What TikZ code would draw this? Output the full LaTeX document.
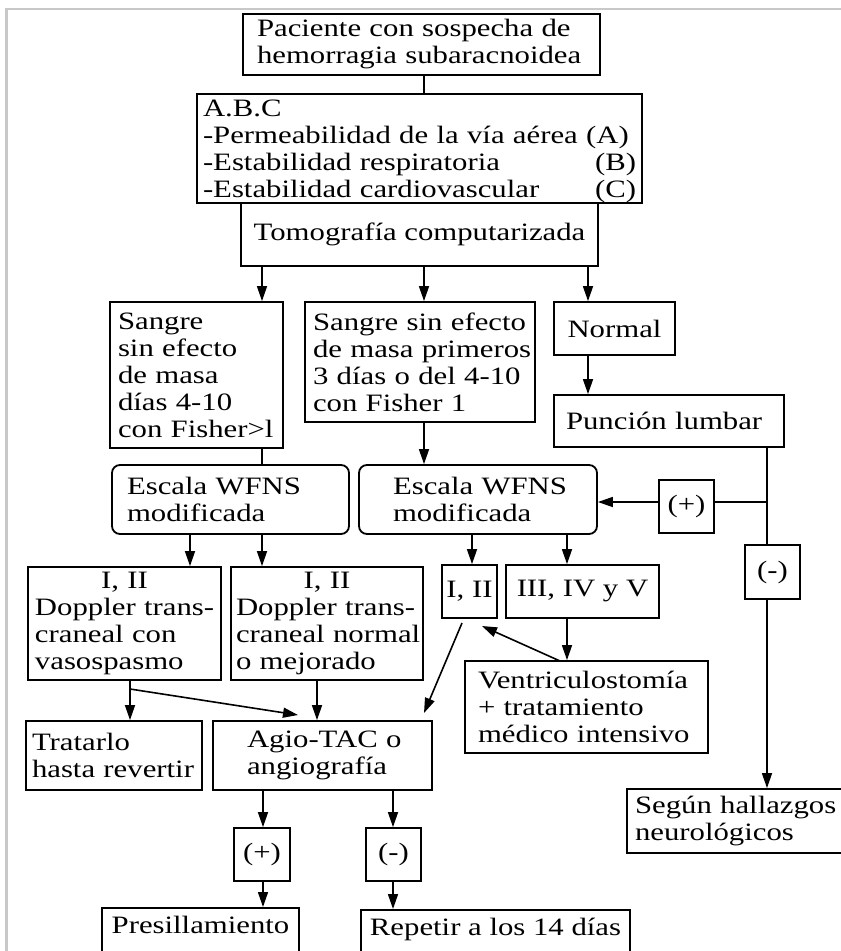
\documentclass[tikz,border=0pt]{standalone}
\usepackage{fontspec}
\setmainfont{Liberation Serif}[FakeStretch=1.23]
\usetikzlibrary{arrows.meta}
\definecolor{framegray}{RGB}{200,200,200}
\tikzset{
  box/.style={draw, line width=1.8pt, inner ysep=0pt, align=left, font=\fontsize{25}{27}\selectfont},
  rbox/.style={box, rounded corners=8pt},
  sbox/.style={box, align=center, inner xsep=0pt},
  link/.style={line width=1.6pt},
  arr/.style={link, -{Triangle[length=15pt,width=10pt]}},
}
\begin{document}
\begin{tikzpicture}[x=1pt,y=-1pt]
\useasboundingbox (0,0) rectangle (841,951);
\clip (0,0) rectangle (841,951);
\fill[white] (0,0) rectangle (841,951);
\draw[framegray, line width=2.5pt] (6.3,960) -- (6.3,9) -- (850,9);

% column coordinates
\coordinate (xa) at (262,0);
\coordinate (xb) at (424,0);
\coordinate (xc) at (588,0);
\coordinate (xd) at (190,0);
\coordinate (xe) at (472,0);
\coordinate (xf) at (567,0);
\coordinate (xg) at (767,0);
\coordinate (xh) at (130,0);
\coordinate (xi) at (317,0);
\coordinate (xj) at (263,0);
\coordinate (xk) at (393,0);

% nodes
\node[box, minimum width=357pt, minimum height=61pt, text width=329pt, inner xsep=14pt] (pac) at (421.5,44.5)
  {Paciente con sospecha de\\hemorragia subaracnoidea};
\node[box, minimum width=445pt, minimum height=109pt, text width=433pt, inner xsep=6pt, text height=22pt, text depth=87pt] (abc) at (419.5,148.5)
  {A.B.C\\\mbox{-Permeabilidad de la vía aérea (A)}\\\mbox{-Estabilidad respiratoria}\hfill(B)\\\mbox{-Estabilidad cardiovascular}\hfill(C)};
\node[sbox, minimum width=357pt, minimum height=63pt] (tomo) at (419.5,234.5) {Tomografía computarizada};

\node[box, minimum width=173pt, minimum height=146pt, text width=157pt, inner xsep=8pt] (s1) at (196.5,375)
  {Sangre\\\mbox{sin efecto}\\\mbox{de masa}\\\mbox{días 4-10}\\\mbox{con Fisher>l}};
\node[box, minimum width=230pt, minimum height=120pt, text width=214pt, inner xsep=8pt] (s2) at (420,362)
  {\mbox{Sangre sin efecto}\\\mbox{de masa primeros}\\\mbox{3 días o del 4-10}\\\mbox{con Fisher 1}};
\node[sbox, minimum width=121pt, minimum height=53pt] (normal) at (614.5,328.5) {Normal};
\node[box, minimum width=230pt, minimum height=52pt, text width=206pt, inner xsep=12pt] (punc) at (669,421) {\mbox{Punción lumbar}};

\node[rbox, minimum width=237pt, minimum height=69pt, text width=207pt, inner xsep=15pt] (esc1) at (230.5,499.5)
  {\mbox{Escala WFNS}\\modificada};
\node[rbox, minimum width=238pt, minimum height=69pt, text width=170pt, inner xsep=34pt] (esc2) at (478,499.5)
  {\mbox{Escala WFNS}\\modificada};
\node[sbox, minimum width=55pt, minimum height=53pt] (plusR) at (686.5,506.5) {(+)};
\node[sbox, minimum width=55pt, minimum height=54pt] (minusR) at (772.5,572) {(-)};

\node[box, minimum width=193pt, minimum height=113pt, text width=179pt, inner xsep=7pt] (d1) at (124.5,623.5)
  {\makebox[179pt]{I, II}\\\mbox{Doppler trans-}\\\mbox{craneal con}\\vasospasmo};
\node[box, minimum width=192pt, minimum height=113pt, text width=182pt, inner xsep=5pt] (d2) at (327,623.5)
  {\makebox[182pt]{I, II}\\\mbox{Doppler trans-}\\\mbox{craneal normal}\\\mbox{o mejorado}};
\node[sbox, minimum width=55pt, minimum height=53pt] (i2) at (469.5,591.5) {I, II};
\node[sbox, minimum width=153pt, minimum height=53pt] (iii) at (582.5,591.5) {III, IV y V};
\node[box, minimum width=243pt, minimum height=92pt, text width=217pt, inner xsep=13pt] (vent) at (586.5,707)
  {\mbox{Ventriculostomía}\\\mbox{+ tratamiento}\\\mbox{médico intensivo}};

\node[box, minimum width=176pt, minimum height=69pt, text width=164pt, inner xsep=6pt] (trat) at (114,755.5)
  {Tratarlo\\\mbox{hasta revertir}};
\node[box, minimum width=219pt, minimum height=69pt, text width=151pt, inner xsep=34pt] (agio) at (322.5,755.5)
  {\mbox{Agio-TAC o}\\angiografía};
\node[box, minimum width=218pt, minimum height=64pt, text width=202pt, inner xsep=8pt] (segun) at (736,821)
  {\mbox{Según hallazgos}\\neurológicos};

\node[sbox, minimum width=56pt, minimum height=53pt] (plusB) at (262,854.5) {(+)};
\node[sbox, minimum width=55pt, minimum height=53pt] (minusB) at (393.5,854.5) {(-)};
\node[sbox, anchor=north, minimum width=197pt, text height=26pt, text depth=40pt] (pres) at (200.5,907) {Presillamiento};
\node[sbox, anchor=north, minimum width=269pt, text height=26pt, text depth=40pt] (rep) at (495.5,909) {Repetir a los 14 días};

% connectors
\draw[link] (pac.south -| xb) -- (abc.north -| xb);
\draw[arr] (tomo.south -| xa) -- (s1.north -| xa);
\draw[arr] (tomo.south -| xb) -- (s2.north -| xb);
\draw[arr] (tomo.south -| xc) -- (normal.north -| xc);
\draw[arr] (normal.south -| xc) -- (punc.north -| xc);
\draw[link] (s1.south -| xa) -- (esc1.north -| xa);
\draw[arr] (s2.south -| xb) -- (esc2.north -| xb);

\coordinate (jp) at (767,502);
\draw[link] (punc.south -| xg) -- (minusR.north -| xg);
\draw[arr] (minusR.south -| xg) -- (segun.north -| xg);
\draw[link] (jp) -- (plusR.east |- jp);
\draw[arr] (plusR.west |- jp) -- (esc2.east |- jp);

\draw[arr] (esc1.south -| xd) -- (d1.north -| xd);
\draw[arr] (esc1.south -| xa) -- (d2.north -| xa);
\draw[arr] (esc2.south -| xe) -- (i2.north -| xe);
\draw[arr] (esc2.south -| xf) -- (iii.north -| xf);
\draw[arr] (iii.south -| xf) -- (vent.north -| xf);

\coordinate (vs) at (560,661);
\coordinate (ve) at (482,626);
\draw[arr] (vs) -- (ve);
\coordinate (is) at (462,623);
\coordinate (ie) at (424,713);
\draw[arr] (is) -- (ie);

\draw[arr] (d1.south -| xh) -- (trat.north -| xh);
\coordinate (bs) at (130,689);
\coordinate (be) at (298,715);
\draw[arr] (bs) -- (be);
\draw[arr] (d2.south -| xi) -- (agio.north -| xi);

\draw[arr] (agio.south -| xj) -- (plusB.north -| xj);
\draw[arr] (agio.south -| xk) -- (minusB.north -| xk);
\draw[arr] (plusB.south -| xj) -- (pres.north -| xj);
\draw[arr] (minusB.south -| xk) -- (rep.north -| xk);
\end{tikzpicture}
\end{document}
